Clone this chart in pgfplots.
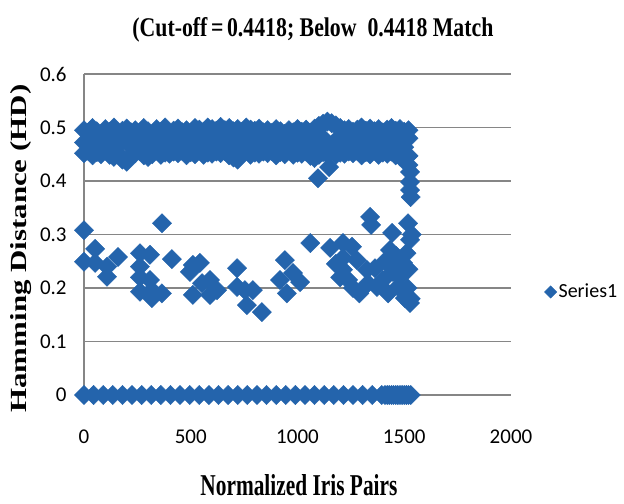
\documentclass[border=0pt]{standalone}
\usepackage{fontspec}
\setmainfont{Liberation Serif}
\newfontfamily\calibri{Carlito}
\usepackage{graphicx}
\usepackage{pgfplots}
\usepackage{pgfplotstable}
\pgfplotsset{compat=1.18}
\definecolor{dblue}{RGB}{36,100,172}
\definecolor{gridgray}{RGB}{134,134,134}

\pgfplotstableread{
x hi mid lo
0 0.495 0.472 0.452
20 0.490 0.466 0.456
40 0.499 0.478 0.448
60 0.493 0.469 0.454
80 0.488 0.475 0.450
100 0.497 0.463 0.457
120 0.492 0.480 0.449
140 0.500 0.470 0.445
160 0.489 0.467 0.451
180 0.494 0.476 0.440
200 0.498 0.472 0.436
220 0.491 0.466 0.447
240 0.495 0.478 0.452
260 0.490 0.469 0.456
280 0.499 0.475 0.448
300 0.493 0.463 0.445
320 0.488 0.480 0.450
340 0.497 0.470 0.457
360 0.492 0.467 0.449
380 0.500 0.476 0.453
400 0.489 0.472 0.451
420 0.494 0.466 0.455
440 0.498 0.478 0.452
460 0.491 0.469 0.456
480 0.495 0.475 0.448
500 0.490 0.463 0.454
520 0.499 0.480 0.450
540 0.496 0.470 0.457
560 0.492 0.467 0.449
580 0.500 0.476 0.453
600 0.497 0.472 0.451
620 0.494 0.466 0.455
640 0.501 0.478 0.452
660 0.495 0.469 0.456
680 0.499 0.475 0.448
700 0.493 0.463 0.444
720 0.497 0.480 0.440
740 0.492 0.470 0.450
760 0.500 0.467 0.457
780 0.496 0.476 0.449
800 0.494 0.472 0.453
820 0.498 0.466 0.451
840 0.491 0.478 0.455
860 0.495 0.469 0.452
880 0.490 0.475 0.456
900 0.497 0.463 0.448
920 0.493 0.480 0.454
940 0.488 0.470 0.450
960 0.495 0.467 0.457
980 0.491 0.476 0.449
1000 0.497 0.472 0.453
1020 0.492 0.466 0.451
1040 0.496 0.478 0.455
1060 0.490 0.469 0.447
1080 0.498 0.475 0.443
1100 0.503 0.463 0.449
1120 0.507 0.480 0.454
1140 0.511 0.470 0.450
1160 0.508 0.467 0.457
1180 0.504 0.476 0.449
1200 0.499 0.472 0.453
1220 0.495 0.466 0.451
1240 0.497 0.478 0.455
1260 0.492 0.469 0.452
1280 0.496 0.475 0.456
1300 0.500 0.463 0.448
1320 0.494 0.480 0.454
1340 0.498 0.470 0.450
1360 0.493 0.467 0.457
1380 0.497 0.476 0.449
1400 0.491 0.472 0.453
1420 0.496 0.466 0.451
1440 0.499 0.478 0.455
1460 0.494 0.469 0.448
1480 0.497 0.475 0.446
1500 0.492 0.463 0.444
1520 0.495 0.480 0.447
}\band

\pgfplotstableread{
x y
0 0.308
0 0.249
52 0.273
52 0.247
108 0.240
108 0.221
159 0.258
262 0.265
262 0.240
262 0.220
262 0.193
309 0.262
309 0.215
318 0.196
318 0.181
365 0.321
365 0.190
412 0.254
496 0.230
510 0.243
510 0.187
543 0.247
553 0.209
590 0.215
590 0.187
623 0.196
717 0.237
717 0.202
754 0.196
763 0.168
791 0.196
833 0.155
918 0.215
941 0.252
950 0.190
979 0.228
1012 0.211
1060 0.284
1153 0.275
1180 0.245
1200 0.220
1213 0.284
1213 0.256
1213 0.234
1237 0.215
1255 0.277
1260 0.200
1278 0.252
1290 0.190
1325 0.234
1330 0.209
1340 0.333
1345 0.318
1363 0.237
1372 0.202
1400 0.215
1410 0.250
1424 0.190
1433 0.271
1443 0.303
1447 0.230
1462 0.260
1471 0.202
1480 0.221
1494 0.247
1503 0.181
1510 0.265
1515 0.200
1518 0.321
1520 0.235
1527 0.290
1527 0.172
1530 0.180
1535 0.300
1096 0.405
1148 0.426
1520 0.430
1527 0.417
1527 0.398
1527 0.383
1530 0.370
}\scat

\pgfplotstableread{
x y
0 0
45 0
90 0
135 0
180 0
225 0
270 0
315 0
360 0
405 0
450 0
495 0
540 0
585 0
630 0
675 0
720 0
765 0
810 0
855 0
900 0
945 0
990 0
1035 0
1080 0
1125 0
1170 0
1215 0
1260 0
1305 0
1350 0
1395 0
1410 0
1420 0
1430 0
1440 0
1450 0
1460 0
1470 0
1480 0
1490 0
1500 0
1510 0
1520 0
1530 0
}\zeros

\pgfplotsset{dia/.style={only marks, mark=square*, mark size=3.4pt,
  mark options={rotate=45, fill=dblue, draw=dblue, line width=0.2pt}}}

\begin{document}
\begin{tikzpicture}
\useasboundingbox (0,0) rectangle (312pt,251.5pt);
\begin{axis}[
  at={(42pt,54pt)}, anchor=south west,
  scale only axis, width=213.5pt, height=160.5pt,
  xmin=0, xmax=2000, ymin=0, ymax=0.6,
  xtick={0,500,1000,1500,2000},
  xticklabels={0,500,1000,1500,2000},
  ytick={0,0.1,0.2,0.3,0.4,0.5,0.6},
  yticklabels={0,0.1,0.2,0.3,0.4,0.5,0.6},
  tick style={draw=none},
  ymajorgrids, major grid style={gridgray, line width=0.9pt},
  axis lines*=left, axis line style={-},
  x axis line style={draw=none},
  y axis line style={draw=gridgray, line width=0.9pt},
  ticklabel style={font=\calibri\fontsize{10.5}{12}\selectfont},
  xticklabel style={anchor=center, yshift=-21pt},
  yticklabel style={anchor=east, inner sep=0pt, xshift=-8.5pt},
  clip=false,
  legend style={at={(1.078,0.321)}, anchor=west, draw=none, fill=none,
    inner sep=0pt, font=\calibri\fontsize{10}{12}\selectfont,
    nodes={inner sep=1pt}},
  legend cell align=left,
  legend image code/.code={\draw[mark=square*, mark size=2.1pt,
    mark options={rotate=45, fill=dblue, draw=dblue}] plot coordinates {(2pt,0pt)};},
]
\addplot[dia] table[x=x, y=hi] {\band};
\addlegendentry{Series1}
\addplot[dia, forget plot] table[x=x, y=mid] {\band};
\addplot[dia, forget plot] table[x=x, y=lo] {\band};
\addplot[dia, forget plot] table[x=x, y=y] {\scat};
\addplot[dia, forget plot] table[x=x, y=y] {\zeros};
\end{axis}
\node[anchor=base west, inner sep=0pt] at (66pt,233pt)
  {\resizebox{180.5pt}{9.5pt}{\bfseries (Cut-off\,=\,0.4418; Below\ \ 0.4418 Match}};
\node[anchor=base west, inner sep=0pt] at (100pt,4pt)
  {\resizebox{98.5pt}{10.5pt}{\bfseries Normalized Iris Pairs}};
\node[anchor=base west, inner sep=0pt, rotate=90] at (13.5pt,45pt)
  {\resizebox{164pt}{8pt}{\bfseries Hamming Distance (HD)}};
\end{tikzpicture}
\end{document}
